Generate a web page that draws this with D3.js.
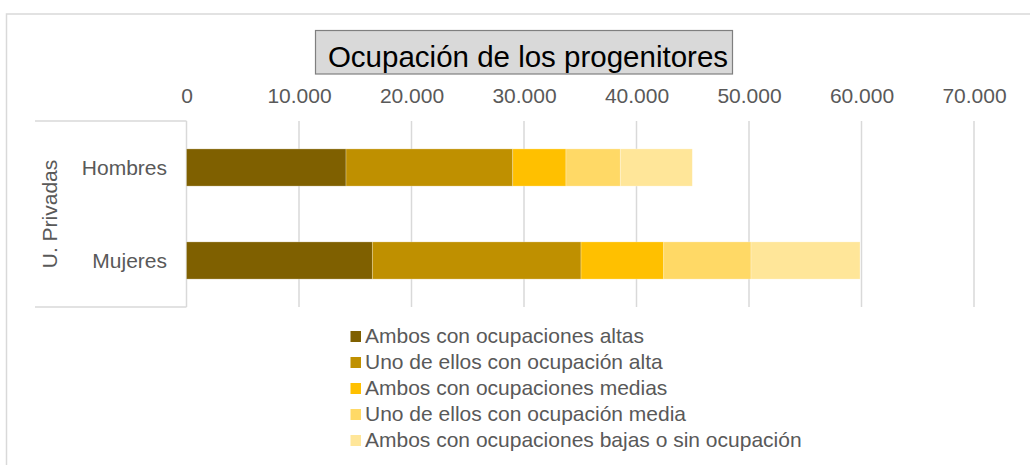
<!DOCTYPE html>
<html>
<head>
<meta charset="utf-8">
<script src="https://cdn.jsdelivr.net/npm/d3@7"></script>
<style>
  html, body { margin: 0; padding: 0; background: #fff; }
  svg { display: block; font-family: "Liberation Sans", Arial, sans-serif; }
</style>
</head>
<body>
<div id="chart"></div>
<script>
// --- Data ---
const groupLabel = "U. Privadas";
const categories = ["Hombres", "Mujeres"];
const seriesNames = [
  "Ambos con ocupaciones altas",
  "Uno de ellos con ocupación alta",
  "Ambos con ocupaciones medias",
  "Uno de ellos con ocupación media",
  "Ambos con ocupaciones bajas o sin ocupación"
];
const hombresValues = [14180, 14820, 4730, 4830, 6400];
const mujeresValues = [16520, 18550, 7350, 7760, 9690];
const tickValues = [0, 10000, 20000, 30000, 40000, 50000, 60000, 70000];
const colors = ["#7f6000", "#bf9000", "#ffc000", "#ffd966", "#ffe699"];

const width = 1030, height = 465;
const plot = { left: 186.5, right: 974, top: 121, bottom: 307 };

const svg = d3.select("#chart").append("svg")
  .attr("width", width)
  .attr("height", height);

// chart border (cropped on the right and bottom)
svg.append("rect")
  .attr("x", 6.5).attr("y", 14)
  .attr("width", 1100).attr("height", 500)
  .attr("fill", "#fff")
  .attr("stroke", "#d9d9d9")
  .attr("stroke-width", 1.5);

// --- Title ---
svg.append("rect")
  .attr("x", 315.5).attr("y", 30.5)
  .attr("width", 417).attr("height", 43.5)
  .attr("fill", "#d9d9d9")
  .attr("stroke", "#7f7f7f")
  .attr("stroke-width", 1.2);

svg.append("text")
  .attr("x", 528).attr("y", 67)
  .attr("text-anchor", "middle")
  .attr("font-size", 29.5)
  .attr("fill", "#000")
  .text("Ocupación de los progenitores");

// --- Scales ---
const x = d3.scaleLinear()
  .domain([0, 70000])
  .range([plot.left, plot.right]);

const y = d3.scaleBand()
  .domain(categories)
  .range([plot.top, plot.bottom])
  .paddingInner(0.6)
  .paddingOuter(0.3);

const locale = d3.formatLocale({ decimal: ",", thousands: ".", grouping: [3], currency: ["", ""] });
const fmt = locale.format(",d");

// gridlines
svg.append("g")
  .selectAll("line")
  .data(tickValues.slice(1))
  .join("line")
  .attr("x1", d => x(d)).attr("x2", d => x(d))
  .attr("y1", plot.top).attr("y2", plot.bottom)
  .attr("stroke", "#d9d9d9")
  .attr("stroke-width", 1.5);

// top axis labels
const xAxis = svg.append("g")
  .attr("transform", `translate(0,${plot.top})`)
  .call(d3.axisTop(x).tickValues(tickValues).tickFormat(fmt).tickSize(0).tickPadding(18.5));
xAxis.select(".domain").remove();
xAxis.selectAll("text")
  .attr("font-size", 21)
  .attr("font-family", "Liberation Sans, Arial, sans-serif")
  .attr("fill", "#595959");

// category axis frame
const frame = svg.append("g")
  .attr("stroke", "#d9d9d9")
  .attr("stroke-width", 1.5);
frame.append("line")
  .attr("x1", plot.left).attr("x2", plot.left)
  .attr("y1", plot.top).attr("y2", plot.bottom);
frame.append("line")
  .attr("x1", 35).attr("x2", plot.left)
  .attr("y1", plot.top).attr("y2", plot.top);
frame.append("line")
  .attr("x1", 35).attr("x2", plot.left)
  .attr("y1", plot.bottom).attr("y2", plot.bottom);

// category labels
svg.append("g")
  .selectAll("text")
  .data(categories)
  .join("text")
  .attr("x", 167)
  .attr("y", d => y(d) + y.bandwidth() / 2)
  .attr("dy", "0.35em")
  .attr("text-anchor", "end")
  .attr("font-size", 21)
  .attr("fill", "#595959")
  .text(d => d);

svg.append("text")
  .attr("transform", `translate(56.5,${(plot.top + plot.bottom) / 2}) rotate(-90)`)
  .attr("text-anchor", "middle")
  .attr("font-size", 21)
  .attr("fill", "#595959")
  .text(groupLabel);

// --- Stacked bars ---
const rows = categories.map((c, i) => {
  const vals = i === 0 ? hombresValues : mujeresValues;
  const row = { category: c };
  seriesNames.forEach((s, j) => row[s] = vals[j]);
  return row;
});

const stacked = d3.stack().keys(seriesNames)(rows);

svg.append("g")
  .selectAll("g")
  .data(stacked)
  .join("g")
  .attr("fill", (d, i) => colors[i])
  .selectAll("rect")
  .data(d => d)
  .join("rect")
  .attr("x", d => x(d[0]))
  .attr("y", d => y(d.data.category))
  .attr("width", d => x(d[1]) - x(d[0]))
  .attr("height", y.bandwidth())
  .attr("stroke", "#fff")
  .attr("stroke-opacity", 0.35)
  .attr("stroke-width", 0.75);

// --- Legend ---
const legend = svg.append("g")
  .selectAll("g")
  .data(seriesNames)
  .join("g")
  .attr("transform", (d, i) => `translate(350.5,${336.5 + i * 26})`);

legend.append("rect")
  .attr("x", 0).attr("y", -5.5)
  .attr("width", 10.5).attr("height", 11)
  .attr("fill", (d, i) => colors[i]);

legend.append("text")
  .attr("x", 14.5).attr("y", 6.5)
  .attr("font-size", 21)
  .attr("fill", "#595959")
  .text(d => d);
</script>
</body>
</html>
